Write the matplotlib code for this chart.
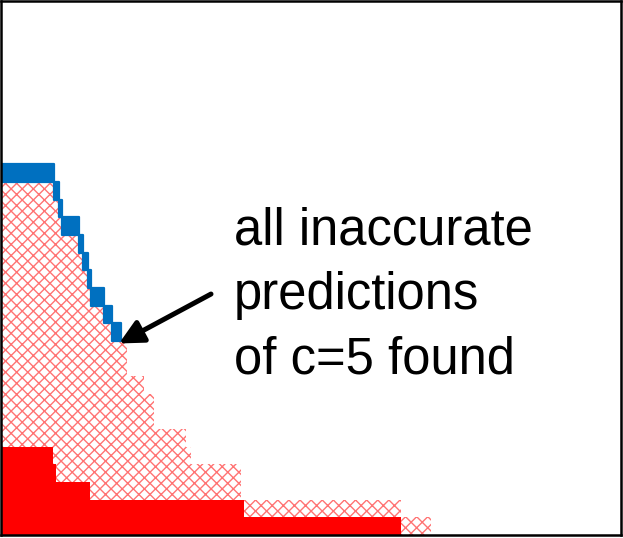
import numpy as np
import matplotlib
matplotlib.use('Agg')
import matplotlib.pyplot as plt

plt.rcParams['font.family'] = ['Liberation Sans', 'DejaVu Sans']
plt.rcParams['hatch.linewidth'] = 1.0

# all predictions (hatched): step edges and counts
x_all = np.array([0, 53, 58, 61, 78, 82, 87, 90, 103, 111, 126, 143, 153, 185, 190, 240, 400, 430])
n_all = np.array([20, 19, 18, 17, 16, 15, 14, 13, 12, 11, 9, 8, 6, 5, 4, 2, 1, 1])

# inaccurate predictions (solid red)
x_bad = np.array([0, 52, 55, 89, 243, 400])
n_bad = np.array([5, 4, 3, 2, 1, 1])

# found by c=5 (blue band above the hatched steps)
x_found = np.array([0, 53, 58, 61, 78, 82, 87, 90, 103, 111, 120])
n_found_top = np.array([21, 20, 19, 18, 17, 16, 15, 14, 13, 12, 12])
n_found_bot = np.array([20, 19, 18, 17, 16, 15, 14, 13, 12, 11, 11])

fig = plt.figure(figsize=(6.23, 5.38), dpi=100)
ax = fig.add_axes([1/623, 3/538, 620/623, 534/538])

ax.fill_between(x_all, 0, n_all, step='post', facecolor='none',
                edgecolor=(1, 0, 0, 0.55), hatch='xxx', linewidth=0)
ax.fill_between(x_bad, 0, n_bad, step='post', facecolor='red', linewidth=0)
ax.fill_between(x_found, n_found_bot, n_found_top, step='post',
                facecolor='#0070c0', edgecolor='#0070c0', linewidth=1.6)

ax.annotate('', xy=(118, 10.85), xytext=(210, 13.65),
            arrowprops=dict(arrowstyle='-|>', lw=3.6, color='black',
                            mutation_scale=36, shrinkA=0, shrinkB=0))
ax.text(233, 18.6, 'all inaccurate\npredictions\nof c=5 found',
        fontsize=36.5, va='top', ha='left', linespacing=1.4)

ax.set_xlim(0, 620)
ax.set_ylim(0, 30.25)
ax.set_xticks([])
ax.set_yticks([])
for s in ax.spines.values():
    s.set_linewidth(1.8)

fig.savefig('out.png', dpi=100)
